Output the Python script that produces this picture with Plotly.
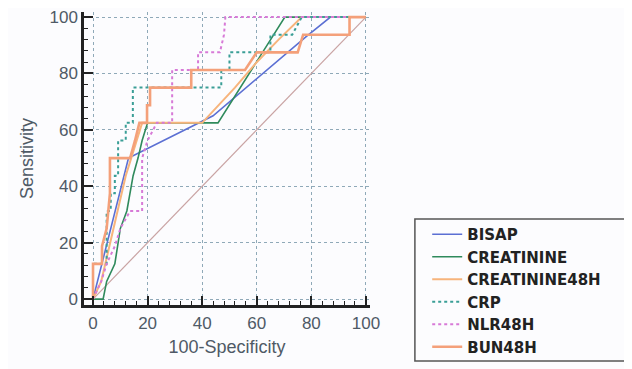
import plotly.graph_objects as go

# ROC curve data (100-Specificity, Sensitivity)
bisap_x = [0, 13, 44, 78, 87, 100]
bisap_y = [0, 50, 65, 93, 100, 100]

creat_x = [0, 3.7, 5, 8, 10, 12.4, 14.7, 16.5, 18, 20, 45.8, 70.3, 100]
creat_y = [0, 0, 6.25, 12.5, 25, 31.25, 43.75, 50, 56.25, 62.5, 62.5, 100, 100]

creat48_x = [0, 3, 6, 9, 12, 14, 16, 18, 40, 46, 52, 60, 68, 76.5, 100]
creat48_y = [0, 6.25, 18.75, 31.25, 43.75, 50, 56.25, 62.5, 62.5, 68.75, 75, 84, 92, 100, 100]

crp_x = [0, 0, 5, 5, 6.5, 6.5, 8, 8, 9.2, 9.2, 12, 12, 14.6, 14.6, 47, 47, 50, 50, 65, 65, 73, 76.5, 100]
crp_y = [0, 12.5, 12.5, 31.25, 31.25, 37.5, 37.5, 43.75, 43.75, 56.25, 56.25, 62.5, 62.5, 75, 75, 81.25, 81.25, 87.5, 87.5, 93.75, 93.75, 100, 100]

nlr_x = [0, 3, 5, 8, 10, 13.6, 18, 18, 20, 23.4, 29, 29, 38.5, 38.5, 46.5, 48, 48.5, 100]
nlr_y = [0, 6.25, 12.5, 18.75, 25, 31.25, 31.25, 50, 56.25, 62.5, 62.5, 81.25, 81.25, 87.5, 87.5, 93.75, 100, 100]

bun_x = [0, 0, 3.3, 3.3, 5, 6.2, 6.2, 13.6, 15.4, 17, 19.8, 19.8, 20.9, 20.9, 36, 36, 55.7, 60, 75, 77, 94, 94, 100]
bun_y = [0, 12.5, 12.5, 18.75, 25, 37.5, 50, 50, 56.25, 62.5, 62.5, 68.75, 68.75, 75, 75, 81.25, 81.25, 87.5, 87.5, 93.75, 93.75, 100, 100]

diag_x = [0, 100]
diag_y = [0, 100]

x_ticks = [0, 20, 40, 60, 80, 100]
y_ticks = [0, 20, 40, 60, 80, 100]

FONT = "Liberation Sans, Arial"
TXT = "#4f5a66"

fig = go.Figure()

fig.add_trace(go.Scatter(x=diag_x, y=diag_y, mode="lines", showlegend=False,
                         line=dict(color="#c9a3a3", width=1.2), hoverinfo="skip"))

series = [
    ("BISAP", bisap_x, bisap_y, "#5b6fd3", 1.6, "solid"),
    ("CREATININE", creat_x, creat_y, "#2f8a5c", 1.6, "solid"),
    ("CREATININE48H", creat48_x, creat48_y, "#f7b47c", 2.0, "solid"),
    ("CRP", crp_x, crp_y, "#3a9e96", 2.0, "dot"),
    ("NLR48H", nlr_x, nlr_y, "#d77ad7", 2.0, "dot"),
    ("BUN48H", bun_x, bun_y, "#f4a07a", 2.6, "solid"),
]
for name, xs, ys, col, w, dash in series:
    fig.add_trace(go.Scatter(x=xs, y=ys, mode="lines", name=name,
                             line=dict(color=col, width=w, dash=dash)))

axis_common = dict(
    showline=True, linecolor="#222", linewidth=2.5,
    ticks="inside", ticklen=9, tickwidth=2, tickcolor="#222",
    minor=dict(dtick=4, ticks="inside", ticklen=4, tickwidth=1.3, tickcolor="#222", showgrid=False),
    showgrid=True, gridcolor="#8fa9b8", griddash="dot", gridwidth=1.2,
    zeroline=False, automargin=False, ticklabeloverflow="allow",
    tickfont=dict(family=FONT, size=17, color=TXT),
)

fig.update_xaxes(range=[-3.3, 101.5], tickvals=x_ticks, ticklabelstandoff=1,
                 title=dict(text="100-Specificity", font=dict(family=FONT, size=18, color=TXT), standoff=9),
                 **axis_common)
fig.update_yaxes(range=[-2.1, 101.8], tickvals=y_ticks,
                 title=dict(text="Sensitivity", font=dict(family=FONT, size=18, color=TXT), standoff=12),
                 **axis_common)

fig.add_shape(type="rect", xref="paper", yref="paper",
              x0=1.157, x1=2.0, y0=-0.191, y1=0.2935,
              line=dict(color="#555", width=1.5), fillcolor="rgba(0,0,0,0)")

fig.update_layout(
    width=632, height=369,
    margin=dict(l=76, r=270, t=4, b=72),
    paper_bgcolor="#fcfcfe", plot_bgcolor="#fcfcfe",
    legend=dict(x=1.2, y=0.297, xanchor="left", yanchor="top",
                font=dict(family="DejaVu Sans", size=15, color="#222", weight="bold"),
                bgcolor="rgba(0,0,0,0)", borderwidth=0, tracegroupgap=0),
    showlegend=True,
)

fig.write_html("out.html")
